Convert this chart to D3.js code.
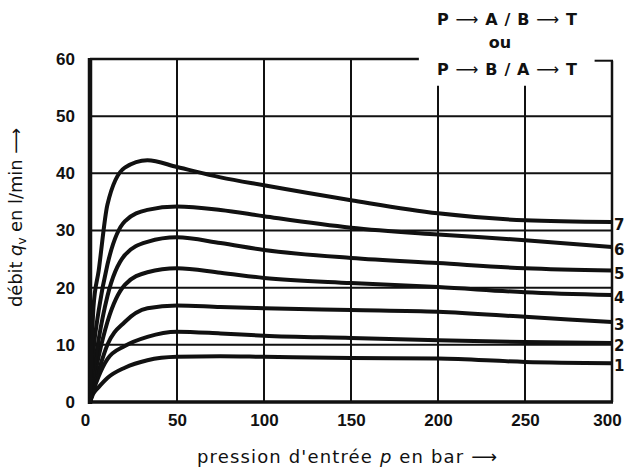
<!DOCTYPE html>
<html>
<head>
<meta charset="utf-8">
<script src="https://cdn.jsdelivr.net/npm/d3@7"></script>
<style>
  body { margin: 0; background: #fff; }
  svg { display: block; font-family: "DejaVu Sans", sans-serif; }
  .tick text { font-weight: bold; font-size: 17px; fill: #111; }
  .arrow { font-weight: normal; }
</style>
</head>
<body>
<svg id="chart"></svg>
<script>
// pressure samples (bar) and flow values (l/min)
const pressure = [0, 2, 5, 10, 20, 33, 50, 75, 100, 150, 200, 250, 300];
const curve1 = [0, 1.5, 2.6, 4.2, 6.0, 7.3, 7.9, 8.0, 7.9, 7.7, 7.6, 7.0, 6.8];
const curve2 = [0, 2.0, 4.5, 7.5, 9.8, 11.4, 12.3, 12.0, 11.6, 11.2, 10.8, 10.5, 10.3];
const curve3 = [0, 2.5, 5.5, 10.0, 14.0, 16.4, 16.9, 16.6, 16.4, 16.1, 15.8, 14.9, 14.0];
const curve4 = [0, 3.5, 8.0, 14.0, 20.5, 22.7, 23.4, 22.6, 21.7, 20.8, 20.1, 19.2, 18.7];
const curve5 = [0, 5.0, 11.0, 18.5, 25.7, 28.0, 28.8, 27.8, 26.6, 25.2, 24.3, 23.4, 23.0];
const curve6 = [0, 9.0, 16.0, 24.0, 31.6, 33.6, 34.2, 33.6, 32.5, 30.5, 29.3, 28.3, 27.1];
const curve7 = [0, 16.6, 23.0, 34.5, 41.0, 42.3, 41.1, 39.3, 37.9, 35.3, 33.0, 31.8, 31.5];
const curveNames = ["1", "2", "3", "4", "5", "6", "7"];
const xTicks = [0, 50, 100, 150, 200, 250, 300];
const yTicks = [0, 10, 20, 30, 40, 50, 60];
// flow paths written as [from, to] pairs
const modeA = [["P", "A"], ["B", "T"]];
const modeB = [["P", "B"], ["A", "T"]];

const config = {
  width: 625,
  height: 472,
  margin: { top: 59, right: 13, bottom: 70, left: 90 }
};

const svg = d3.select("#chart")
  .attr("width", config.width)
  .attr("height", config.height);

const x = d3.scaleLinear()
  .domain([0, 300])
  .range([config.margin.left, config.width - config.margin.right]);
const y = d3.scaleLinear()
  .domain([0, 60])
  .range([config.height - config.margin.bottom, config.margin.top]);

const ink = "#111";
const longArrow = "\u27F6";

// grid: horizontal lines across, vertical ones shortened where the label sits
svg.append("g").selectAll("line")
  .data(yTicks.slice(1, -1))
  .join("line")
  .attr("x1", x(0)).attr("x2", x(300))
  .attr("y1", d => y(d)).attr("y2", d => y(d))
  .attr("stroke", ink).attr("stroke-width", 2);

svg.append("g").selectAll("line")
  .data(xTicks.slice(1, -1))
  .join("line")
  .attr("x1", d => x(d)).attr("x2", d => x(d))
  .attr("y1", d => d >= 200 ? y(55.3) : y(60)).attr("y2", y(0))
  .attr("stroke", ink).attr("stroke-width", 2);

// frame
const frame = svg.append("g").attr("stroke", ink).attr("fill", "none");
frame.append("line")
  .attr("x1", x(0)).attr("x2", x(0)).attr("y1", y(60) - 1).attr("y2", y(0) + 2)
  .attr("stroke-width", 4.5);
frame.append("line")
  .attr("x1", x(0) - 2).attr("x2", x(300) + 1).attr("y1", y(0)).attr("y2", y(0))
  .attr("stroke-width", 3.5);
frame.append("line")
  .attr("x1", x(0)).attr("x2", x(189)).attr("y1", y(60)).attr("y2", y(60))
  .attr("stroke-width", 2.5);
frame.append("line")
  .attr("x1", x(290)).attr("x2", x(300) + 1).attr("y1", y(59.7)).attr("y2", y(59.7))
  .attr("stroke-width", 2);
frame.append("line")
  .attr("x1", x(300)).attr("x2", x(300)).attr("y1", y(59.7)).attr("y2", y(0))
  .attr("stroke-width", 2.5);

// curves
const series = [curve1, curve2, curve3, curve4, curve5, curve6, curve7];
const line = d3.line()
  .x((d, i) => x(pressure[i]))
  .y(d => y(d))
  .curve(d3.curveMonotoneX);

svg.append("g").selectAll("path")
  .data(series)
  .join("path")
  .attr("d", d => line(d))
  .attr("fill", "none")
  .attr("stroke", ink)
  .attr("stroke-width", 4)
  .attr("stroke-linejoin", "round");

// curve numbers at the right edge
svg.append("g").selectAll("text")
  .data(series)
  .join("text")
  .attr("x", x(300) + 2)
  .attr("y", d => y(d[d.length - 1]) + 8)
  .attr("font-size", 15)
  .attr("font-weight", "bold")
  .attr("fill", ink)
  .text((d, i) => curveNames[i]);

// axes (labels only)
const xAxis = d3.axisBottom(x).tickValues(xTicks).tickSize(0).tickPadding(12);
const yAxis = d3.axisLeft(y).tickValues(yTicks).tickSize(0).tickPadding(15);

svg.append("g")
  .attr("transform", `translate(0,${y(0)})`)
  .call(xAxis)
  .call(g => g.select(".domain").remove())
  .call(g => g.selectAll(".tick text").filter(d => d === 300).attr("dx", -5))
  .call(g => g.selectAll(".tick text").filter(d => d === 0).attr("dx", -5));

svg.append("g")
  .attr("transform", `translate(${x(0)},0)`)
  .call(yAxis)
  .call(g => g.select(".domain").remove());

// axis titles
const xTitle = svg.append("text")
  .attr("x", 197)
  .attr("y", 463)
  .attr("font-size", 18)
  .attr("textLength", 300)
  .attr("lengthAdjust", "spacing")
  .attr("fill", ink);
xTitle.append("tspan").text("pression d'entrée ");
xTitle.append("tspan").attr("font-style", "italic").text("p");
xTitle.append("tspan").text(" en bar ");
xTitle.append("tspan").attr("class", "arrow").text(longArrow);

const yTitle = svg.append("text")
  .attr("transform", "translate(22,307) rotate(-90)")
  .attr("font-size", 18)
  .attr("textLength", 179)
  .attr("lengthAdjust", "spacing")
  .attr("fill", ink);
yTitle.append("tspan").text("débit ");
yTitle.append("tspan").attr("font-style", "italic").text("q");
yTitle.append("tspan").attr("font-size", 12).attr("dy", 4).text("v");
yTitle.append("tspan").attr("dy", -4).text(" en l/min ");
yTitle.append("tspan").attr("class", "arrow").text(longArrow);

// flow path annotation, top right
function modeLabel(pairs, baseline) {
  const t = svg.append("text")
    .attr("x", 437)
    .attr("y", baseline)
    .attr("font-size", 16)
    .attr("font-weight", "bold")
    .attr("textLength", 140)
    .attr("lengthAdjust", "spacing")
    .attr("fill", ink);
  pairs.forEach((p, i) => {
    if (i > 0) t.append("tspan").text(" / ");
    t.append("tspan").text(p[0] + " ");
    t.append("tspan").attr("class", "arrow").text(longArrow);
    t.append("tspan").text(" " + p[1]);
  });
}
modeLabel(modeA, 25);
modeLabel(modeB, 75);

svg.append("text")
  .attr("x", 500)
  .attr("y", 48)
  .attr("text-anchor", "middle")
  .attr("font-size", 16)
  .attr("font-weight", "bold")
  .attr("fill", ink)
  .text("ou");
</script>
</body>
</html>
